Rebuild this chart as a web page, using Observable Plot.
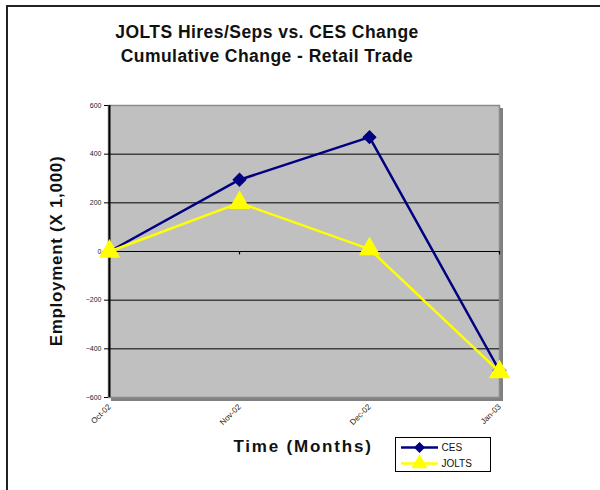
<!DOCTYPE html>
<html>
<head>
<meta charset="utf-8">
<script src="https://cdn.jsdelivr.net/npm/d3@7"></script>
<script src="https://cdn.jsdelivr.net/npm/@observablehq/plot@0.6"></script>
<style>
  html, body { margin: 0; padding: 0; background: #fff; }
  body { width: 600px; height: 490px; position: relative; overflow: hidden; font-family: "Liberation Sans", Arial, sans-serif; }
  #frame { position: absolute; left: 6px; top: 5px; width: 620px; height: 520px; border-top: 2px solid #222; border-left: 2px solid #222; }
  #chart { position: absolute; left: 0; top: 0; }
  .title { position: absolute; left: 67px; width: 400px; text-align: center; font-weight: bold; font-size: 17.5px; letter-spacing: 0.45px; color: #111; }
  #ylab { position: absolute; left: 57px; top: 251px; transform: translate(-50%, -50%) rotate(-90deg); white-space: nowrap; font-weight: bold; font-size: 17px; letter-spacing: 0.7px; color: #111; }
  #xlab { position: absolute; left: 303px; top: 447px; transform: translate(-50%, -50%); white-space: nowrap; font-weight: bold; font-size: 17px; letter-spacing: 1.8px; color: #111; }
  #legend { position: absolute; left: 395px; top: 437px; width: 94px; height: 33px; border: 1px solid #000; background: #fff; }
</style>
</head>
<body>
<div id="frame"></div>
<div id="chart"></div>
<div class="title" style="top:22px">JOLTS Hires/Seps vs. CES Change</div>
<div class="title" style="top:46px">Cumulative Change - Retail Trade</div>
<div id="ylab">Employment (X 1,000)</div>
<div id="xlab">Time (Months)</div>
<div id="legend"></div>
<script>
const months = ["Oct-02", "Nov-02", "Dec-02", "Jan-03"];
const cesValues = [0, 295, 470, -490];
const joltsValues = [0, 200, 10, -495];
const yTicks = [-600, -400, -200, 0, 200, 400, 600];
const gridValues = [-400, -200, 0, 200, 400];
const seriesNames = ["CES", "JOLTS"];
const seriesColors = ["#000080", "#ffff00"];

const ces = months.map((m, i) => ({month: m, value: cesValues[i]}));
const jolts = months.map((m, i) => ({month: m, value: joltsValues[i]}));

const chart = Plot.plot({
  width: 600,
  height: 490,
  marginTop: 105,
  marginBottom: 93,
  marginLeft: 108,
  marginRight: 101,
  style: {background: "transparent", fontFamily: "Liberation Sans, Arial, sans-serif"},
  x: {type: "point", domain: months, padding: 0},
  y: {domain: [-600, 600]},
  marks: [
    Plot.frame({fill: "#808080", stroke: "#808080", dx: 3, dy: 3}),
    Plot.frame({fill: "#c0c0c0", stroke: "#8a8a8a", strokeWidth: 1.5}),
    Plot.ruleY(gridValues, {stroke: "#000", strokeWidth: 1}),
    Plot.ruleX(months, {x: d => d, y1: 0, y2: -14, stroke: "#000", strokeWidth: 1.2}),
    Plot.ruleX([months[0]], {x: d => d, stroke: "#000", strokeWidth: 2}),
    Plot.axisY({ticks: yTicks, tickSize: 4, tickPadding: 3, fontSize: 7, color: "#222", stroke: "#000", label: null}),
    Plot.axisX({tickSize: 0, tickPadding: 8, tickRotate: -45, fontSize: 8, color: "#222", label: null}),
    Plot.line(ces, {x: "month", y: "value", stroke: seriesColors[0], strokeWidth: 2.5}),
    Plot.line(jolts, {x: "month", y: "value", stroke: seriesColors[1], strokeWidth: 2.5}),
    Plot.dot(ces, {x: "month", y: "value", symbol: "diamond2", fill: seriesColors[0], stroke: seriesColors[0], r: 5.5}),
    Plot.dot(jolts, {x: "month", y: "value", symbol: "triangle", fill: seriesColors[1], stroke: seriesColors[1], r: 7})
  ]
});
document.getElementById("chart").appendChild(chart);

// Legend (drawn with Plot, using the series names and colors)
const legendData = seriesNames.map((s, i) => ({name: s, row: i}));
const legend = Plot.plot({
  width: 94, height: 33,
  margin: 0,
  style: {background: "transparent"},
  x: {domain: [0, 94], axis: null},
  y: {domain: [0, 1], range: [9, 25], axis: null},
  marks: [
    Plot.ruleY(legendData, {y: "row", x1: 5, x2: 42, stroke: d => seriesColors[d.row], strokeWidth: 2.5}),
    Plot.dot(legendData.filter(d => d.row === 0), {x: 23, y: "row", symbol: "diamond2", fill: seriesColors[0], stroke: seriesColors[0], r: 4}),
    Plot.dot(legendData.filter(d => d.row === 1), {x: 23, y: "row", symbol: "triangle", fill: seriesColors[1], stroke: seriesColors[1], r: 5}),
    Plot.text(legendData, {x: 45, y: "row", text: "name", textAnchor: "start", fontSize: 10, fill: "#111", fontFamily: "Liberation Sans, Arial, sans-serif", letterSpacing: 0.8})
  ]
});
document.getElementById("legend").appendChild(legend);
</script>
</body>
</html>
